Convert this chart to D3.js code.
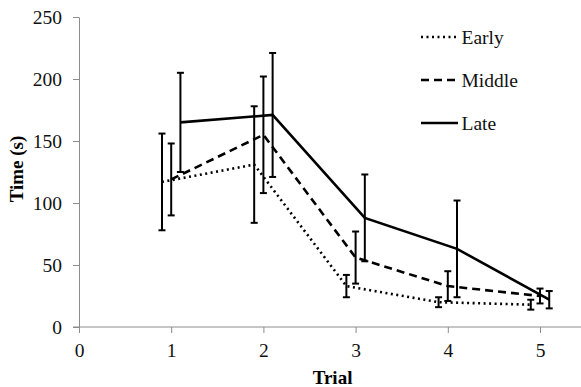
<!DOCTYPE html>
<html>
<head>
<meta charset="utf-8">
<script src="https://cdn.jsdelivr.net/npm/d3@7"></script>
<style>
  body { margin: 0; background: #fff; }
</style>
</head>
<body>
<div id="chart"></div>
<script>
// datos
const trials = [1, 2, 3, 4, 5];
const seriesNames = ['Early', 'Middle', 'Late'];
const earlyMean = [117, 131, 33, 20, 18];
const earlyErr = [39, 47, 9, 4, 4];
const middleMean = [119, 155, 56, 33, 25];
const middleErr = [29, 47, 21, 12, 6];
const lateMean = [165, 171, 88, 63, 22];
const lateErr = [40, 50, 35, 39, 7];
const xTicks = [0, 1, 2, 3, 4, 5];
const yTicks = [0, 50, 100, 150, 200, 250];

const width = 581, height = 387;
const margin = { top: 17, right: 0, bottom: 60, left: 79 };
const FONT = 'Liberation Serif';
const FS = 19.5;

const series = [
  { name: seriesNames[0], mean: earlyMean, err: earlyErr, offset: -0.1, dash: '2,3.5' },
  { name: seriesNames[1], mean: middleMean, err: middleErr, offset: 0, dash: '8,5' },
  { name: seriesNames[2], mean: lateMean, err: lateErr, offset: 0.1, dash: null }
];

const svg = d3.select('#chart').append('svg')
  .attr('width', width).attr('height', height);

const x = d3.scaleLinear().domain([0, 5.5]).range([margin.left, margin.left + 92.2 * 5.5]);
const y = d3.scaleLinear().domain([0, 250]).range([height - margin.bottom, margin.top]);

// ejes
const xAxis = svg.append('g')
  .attr('transform', `translate(0,${y(0)})`)
  .call(d3.axisBottom(x).tickValues(xTicks).tickFormat(d3.format('d'))
    .tickSize(6).tickSizeOuter(0).tickPadding(10.5));
const yAxis = svg.append('g')
  .attr('transform', `translate(${x(0)},0)`)
  .call(d3.axisLeft(y).tickValues(yTicks).tickFormat(d3.format('d'))
    .tickSize(6).tickSizeOuter(0).tickPadding(11));

[xAxis, yAxis].forEach(a => {
  a.attr('font-family', FONT).attr('font-size', FS);
  a.select('.domain').attr('stroke', '#8c8c8c').attr('stroke-width', 1);
  a.selectAll('.tick line').attr('stroke', '#8c8c8c');
  a.selectAll('.tick text').attr('fill', '#111');
});
// la línea del eje x empieza a la izquierda del eje y
xAxis.select('.domain').attr('d', `M${x(0) - 6},0H${width}`);

// líneas
const line = d3.line().x(d => x(d[0])).y(d => y(d[1]));
series.forEach(s => {
  const pts = trials.map((t, i) => [t + s.offset, s.mean[i]]);
  svg.append('path')
    .datum(pts)
    .attr('d', line)
    .attr('fill', 'none')
    .attr('stroke', '#000')
    .attr('stroke-width', 2.6)
    .attr('stroke-dasharray', s.dash);
});

// barras de error
series.forEach(s => {
  const g = svg.append('g').attr('stroke', '#000').attr('stroke-width', 2);
  trials.forEach((t, i) => {
    const cx = x(t + s.offset);
    const lo = y(s.mean[i] - s.err[i]), hi = y(s.mean[i] + s.err[i]);
    g.append('line').attr('x1', cx).attr('x2', cx).attr('y1', lo).attr('y2', hi);
    g.append('line').attr('x1', cx - 3.5).attr('x2', cx + 3.5).attr('y1', lo).attr('y2', lo);
    g.append('line').attr('x1', cx - 3.5).attr('x2', cx + 3.5).attr('y1', hi).attr('y2', hi);
  });
});

// leyenda
const legend = svg.append('g').attr('transform', 'translate(421,37)');
series.forEach((s, i) => {
  const row = legend.append('g').attr('transform', `translate(0,${i * 43})`);
  row.append('line').attr('x1', 0).attr('x2', 37).attr('y1', 0).attr('y2', 0)
    .attr('stroke', '#000').attr('stroke-width', 2.6).attr('stroke-dasharray', s.dash);
  row.append('text').attr('x', 40.5).attr('y', 0).attr('dy', '0.35em')
    .attr('font-family', FONT).attr('font-size', FS).attr('fill', '#111').text(s.name);
});

// títulos de ejes
svg.append('text')
  .attr('x', x(2.75)).attr('y', 384)
  .attr('text-anchor', 'middle')
  .attr('font-family', FONT).attr('font-size', 19).attr('font-weight', 'bold')
  .text('Trial');
svg.append('text')
  .attr('transform', 'translate(23,169) rotate(-90)')
  .attr('text-anchor', 'middle')
  .attr('font-family', FONT).attr('font-size', 19).attr('font-weight', 'bold')
  .text('Time (s)');
</script>
</body>
</html>
